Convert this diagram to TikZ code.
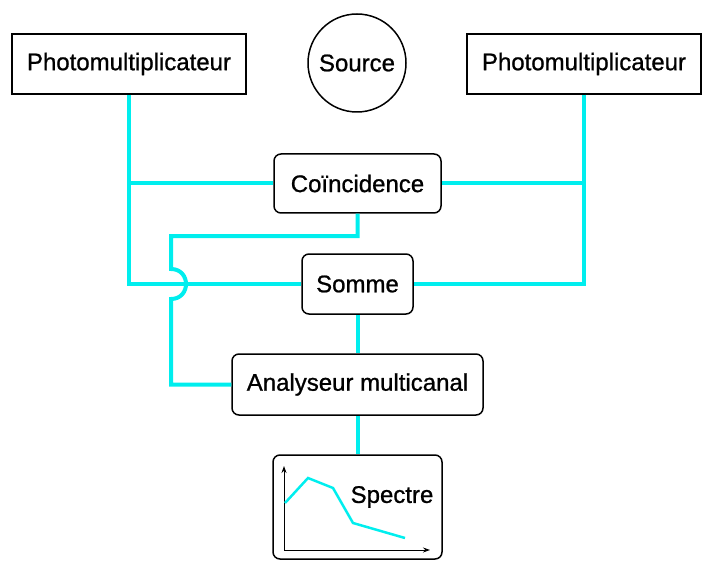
\documentclass[tikz,border=0pt]{standalone}
\usepackage{fontspec}
\setmainfont{Liberation Sans}
\newfontface\semib{Liberation Sans}[RawFeature={embolden=0.9}]
\usetikzlibrary{arrows.meta}
\begin{document}
\begin{tikzpicture}[x=1pt,y=-1pt,
  txt/.style={font=\semib\fontsize{24}{28}\selectfont},
  pmbox/.style={txt,draw=black,line width=1.5pt,minimum width=234pt,minimum height=60pt,inner sep=0pt},
  rbox/.style={txt,draw=black,line width=1.5pt,rounded corners=7pt,inner sep=0pt},
  wire/.style={draw={rgb,255:red,0;green,238;blue,238},line width=4pt,line join=miter},
  curve/.style={draw={rgb,255:red,0;green,238;blue,238},line width=2.5pt,line join=miter}
]
\useasboundingbox (0,0) rectangle (703,561);
\node[pmbox] (pmL) at (129,64) {Photomultiplicateur};
\node[pmbox] (pmR) at (584,64) {Photomultiplicateur};
\node[txt,draw=black,line width=1.5pt,circle,minimum size=98pt,inner sep=0pt] (src) at (357,63) {Source};
\node[rbox,minimum width=167pt,minimum height=59pt] (coinc) at (357.5,183.5) {Coïncidence};
\node[rbox,minimum width=111pt,minimum height=60pt] (somme) at (357.5,284) {Somme};
\node[rbox,minimum width=251pt,minimum height=61pt] (anal) at (357.5,384.5) {Analyseur multicanal};
\node[rbox,minimum width=169pt,minimum height=104pt] (spec) at (357.5,507) {};
\node[txt,anchor=center] (spt) at (392,497) {Spectre};
% wires
\draw[wire] (pmL.south) |- (somme.west);
\draw[wire] (pmL.south |- coinc.west) -- (coinc.west);
\draw[wire] (pmR.south) |- (somme.east);
\draw[wire] (pmR.south |- coinc.east) -- (coinc.east);
\coordinate (j1) at (171,236);
\draw[wire] (coinc.south) |- (j1) -- (171,269)
  .. controls (191,269) and (191,299) .. (171,299) |- (anal.west);
\draw[wire] (somme.south) -- (anal.north);
\draw[wire] (anal.south) -- (spec.north);
% spectrum
\coordinate (o) at (284,550);
\draw[line width=1pt,-{Stealth[length=7pt,width=5pt]}] (o) -- (284,466);
\draw[line width=1pt,-{Stealth[length=7pt,width=5pt]}] (o) -- (430,550);
\draw[curve] (285,503) -- (308,478) -- (333,488) -- (353,523) -- (405,538);
\end{tikzpicture}
\end{document}
